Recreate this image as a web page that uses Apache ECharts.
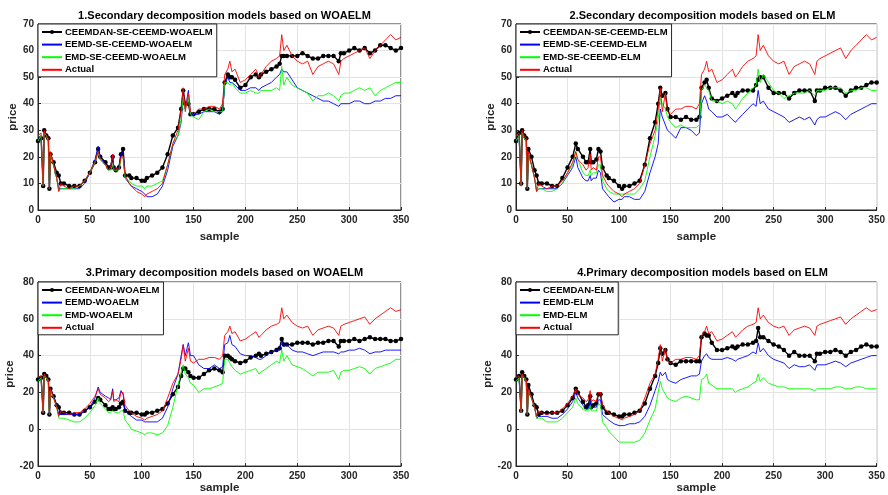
<!DOCTYPE html>
<html>
<head>
<meta charset="utf-8">
<script src="https://cdn.jsdelivr.net/npm/echarts@6/dist/echarts.min.js"></script>
<style>html,body{margin:0;padding:0;background:#fff;}#c{width:888px;height:495px;}</style>
</head>
<body>
<div id="c"></div>
<script>
// sample indices
var samples = [0,3,5,6,8,10,11,12,15,18,
 20,22,25,30,35,40,45,50,55,58,
 60,65,68,70,72,73,75,78,80,82,
 84,88,90,95,100,103,105,110,115,120,
 125,130,135,138,140,142,145,147,150,155,
 160,165,170,175,178,180,183,185,187,190,
 195,200,205,210,213,215,220,225,230,233,
 235,237,240,245,250,255,260,265,270,275,
 280,285,290,292,295,300,305,310,315,320,
 325,330,335,340,345,350];

var actual = [28,29,9,30,28,27,8,22,17,12,
 7,10,9,8,9,9,11,14,18,22,
 19,17,15,16,21,15,16,15,20,20,
 13,10,9,7,6,5,6,7,8,10,
 17,25,30,38,46,37,44,37,36,38,
 38,39,39,38,40,51,53,56,52,53,
 48,49,51,53,50,51,54,56,57,58,
 66,60,62,58,56,55,56,51,54,55,
 56,55,51,56,57,58,59,60,61,57,
 60,62,64,66,64,65];

// Panel 1: Secondary decomposition, WOAELM
var p1Ceemdan = [26,27,9,30,28,27,8,21,18,14,
 13,10,10,9,9,9,11,14,18,23,
 20,18,16,16,20,16,15,16,21,23,
 13,13,12,12,11,11,12,13,14,16,
 21,28,31,38,45,40,40,36,36,37,
 38,38,38,37,38,48,51,50,50,49,
 46,47,50,51,50,51,52,53,54,55,
 58,58,58,58,58,59,58,57,57,58,
 58,58,56,59,59,60,61,60,61,59,
 60,62,62,61,60,61];
var p1Eemd = [27,28,9,29,28,26,8,21,17,12,
 8,8,8,8,8,8,10,14,19,24,
 20,17,15,16,21,16,15,16,21,22,
 12,10,9,8,7,6,5,5,6,9,
 15,24,28,33,42,38,45,36,36,36,
 37,37,37,36,37,47,50,48,48,47,
 45,45,46,46,45,46,47,48,50,51,
 53,52,52,49,46,45,44,43,42,41,
 41,40,39,40,40,40,41,41,40,40,
 41,41,42,42,43,43];
var p1Emd = [26,28,9,29,28,26,8,21,17,12,
 7,8,8,8,8,9,11,14,18,22,
 19,17,15,15,17,15,15,15,19,20,
 12,11,10,9,9,8,9,9,10,11,
 17,25,28,34,43,38,42,36,35,34,
 37,38,37,37,37,48,48,47,48,46,
 44,44,45,44,44,45,45,45,46,45,
 54,47,50,47,46,45,44,41,43,43,
 44,43,41,43,44,44,45,46,45,46,
 43,45,46,47,48,48];

// Panel 2: Secondary decomposition, ELM
var p2Ceemdan = [26,29,10,30,28,27,8,23,20,15,
 13,10,10,10,9,9,12,16,20,25,
 23,20,18,18,23,18,18,19,23,22,
 16,13,12,11,9,8,9,9,10,11,
 17,27,33,40,46,43,44,38,35,35,
 34,35,34,34,35,46,48,49,46,42,
 41,42,43,44,43,44,45,45,45,47,
 49,50,50,46,44,44,44,42,44,45,
 45,45,41,45,45,46,46,46,45,43,
 45,46,46,47,48,48];
var p2Eemd = [26,28,9,29,27,26,8,21,17,12,
 7,8,8,8,8,8,10,13,16,20,
 16,12,11,11,13,11,12,12,15,14,
 8,6,5,3,4,4,5,5,4,4,
 7,14,20,25,38,35,32,30,29,27,
 31,31,30,28,29,40,43,41,38,37,
 35,35,36,34,33,34,36,38,40,39,
 45,40,41,38,37,36,35,33,34,35,
 34,35,32,34,35,35,36,37,36,34,
 36,37,38,39,40,40];
var p2Emd = [26,28,9,29,27,26,8,21,17,12,
 7,8,8,7,7,8,10,14,17,22,
 19,14,13,13,15,13,14,14,17,17,
 11,8,7,6,6,6,6,6,6,8,
 11,20,28,34,42,40,38,35,33,31,
 32,31,31,31,32,45,47,46,45,41,
 41,40,41,40,38,39,42,44,46,47,
 53,48,51,48,45,44,42,43,44,44,
 44,45,43,45,45,45,46,46,46,44,
 45,45,46,46,45,45];

// Panel 3: Primary decomposition, WOAELM
var p3Ceemdan = [27,28,9,30,29,27,8,22,18,13,
 12,9,9,9,8,8,10,12,15,17,
 16,13,11,11,12,11,11,12,14,15,
 10,9,9,9,8,8,9,9,10,11,
 14,19,23,29,33,33,31,29,28,28,
 30,32,33,32,31,40,40,39,38,37,
 36,37,39,40,41,40,41,42,43,44,
 49,46,46,46,47,47,47,46,47,47,
 48,48,45,48,48,48,49,48,49,50,
 49,49,49,48,48,49];
var p3Eemd = [27,28,9,30,28,27,8,22,18,13,
 8,8,8,8,8,8,10,12,17,23,
 20,18,17,16,22,16,16,17,21,19,
 10,8,7,5,5,4,4,4,4,6,
 12,22,30,40,46,40,47,40,40,35,
 33,33,35,33,34,46,47,51,46,45,
 41,40,40,39,38,38,40,42,43,43,
 48,45,46,43,42,42,41,40,41,42,
 42,42,41,42,42,43,43,44,43,41,
 42,42,43,43,43,43];
var p3Emd = [26,28,9,29,28,26,8,21,17,12,
 6,6,6,5,4,4,6,9,13,17,
 14,11,9,9,10,9,9,9,10,10,
 5,2,0,-1,-2,-3,-2,-2,-3,-2,
 2,12,24,31,35,30,28,25,24,20,
 22,22,23,24,25,38,38,36,34,32,
 30,31,32,33,30,31,33,35,37,36,
 43,37,40,35,34,33,31,29,31,31,
 31,32,27,31,32,32,33,34,33,30,
 33,34,35,36,38,38];

// Panel 4: Primary decomposition, ELM
var p4Ceemdan = [27,29,10,31,29,27,8,24,19,13,
 12,8,9,9,9,9,10,13,17,22,
 20,15,12,13,18,12,13,14,19,19,
 12,9,9,8,7,7,8,8,9,10,
 14,22,29,36,44,41,43,38,36,35,
 37,37,37,37,37,50,52,51,51,47,
 43,43,44,45,44,45,46,46,47,48,
 55,50,50,48,46,45,43,40,42,40,
 40,40,37,41,41,42,42,43,42,40,
 42,43,45,46,45,45];
var p4Eemd = [27,28,9,30,28,27,8,22,17,12,
 6,7,7,7,6,6,8,11,15,20,
 17,13,11,11,16,11,12,12,16,16,
 8,6,5,3,2,2,2,3,3,4,
 7,13,21,26,31,29,31,27,26,25,
 27,28,29,29,30,37,40,41,39,38,
 38,38,39,38,37,38,39,40,42,41,
 47,42,44,40,38,37,36,33,35,34,
 34,35,32,35,35,35,36,37,36,34,
 36,37,38,39,40,40];
var p4Emd = [26,28,9,29,28,26,8,21,17,12,
 6,6,6,4,4,4,6,9,12,17,
 14,11,10,10,13,10,10,10,14,13,
 4,1,-1,-4,-7,-7,-7,-7,-7,-6,
 -2,5,11,20,26,22,19,17,16,15,
 17,18,17,16,16,27,28,30,25,24,
 22,22,22,22,20,21,22,23,25,26,
 30,26,28,25,24,23,23,22,22,22,
 22,22,21,22,22,22,22,23,23,22,
 22,23,23,22,22,22];

var titles = ['1.Secondary decomposition models based on WOAELM',
 '2.Secondary decomposition models based on ELM',
 '3.Primary decomposition models based on WOAELM',
 '4.Primary decomposition models based on ELM'];
var names = [
 ['CEEMDAN-SE-CEEMD-WOAELM','EEMD-SE-CEEMD-WOAELM','EMD-SE-CEEMD-WOAELM','Actual'],
 ['CEEMDAN-SE-CEEMD-ELM','EEMD-SE-CEEMD-ELM','EMD-SE-CEEMD-ELM','Actual'],
 ['CEEMDAN-WOAELM','EEMD-WOAELM','EMD-WOAELM','Actual'],
 ['CEEMDAN-ELM','EEMD-ELM','EMD-ELM','Actual']];
var preds = [[p1Ceemdan,p1Eemd,p1Emd],[p2Ceemdan,p2Eemd,p2Emd],[p3Ceemdan,p3Eemd,p3Emd],[p4Ceemdan,p4Eemd,p4Emd]];
var yRanges = [[0,70,10],[0,70,10],[-20,80,20],[-20,80,20]];
var xTicks = [0,350,50];

var font = 'Liberation Sans, Arial, sans-serif';
var axisColor = '#262626';
var gridPos = [
 {left:38, top:24, width:363, height:186},
 {left:516, top:24, width:363, height:186},
 {left:38, top:282, width:363, height:185},
 {left:516, top:282, width:363, height:185}];

function pairs(arr){ return samples.map(function(x,i){ return [x, arr[i]]; }); }

var option = {
 animation:false,
 backgroundColor:'#fff',
 title:[], grid:[], xAxis:[], yAxis:[], legend:[], series:[]
};
var colors = ['#000000','#0000ff','#00ff00','#ff0000'];
for (var p=0;p<4;p++){
 var g = gridPos[p];
 option.grid.push({left:g.left, top:g.top, width:g.width, height:g.height, show:true, borderColor:axisColor, borderWidth:1, backgroundColor:'#fff', containLabel:false});
 option.title.push({text:titles[p], left:g.left+g.width/2, top:(p<2?5:262), textAlign:'center',
   textStyle:{fontFamily:font, fontWeight:'bold', fontSize:11, color:'#000'}});
 option.xAxis.push({type:'value', gridIndex:p, min:xTicks[0], max:xTicks[1], interval:xTicks[2],
   name:'sample', nameLocation:'middle', nameGap:(p<2?21:13),
   nameTextStyle:{fontFamily:font, fontWeight:'bold', fontSize:11.5, color:axisColor},
   axisLine:{show:true, onZero:false, lineStyle:{color:axisColor, width:1}},
   axisTick:{show:true, inside:true, length:3, lineStyle:{color:axisColor}},
   axisLabel:{fontFamily:font, fontWeight:'bold', fontSize:10, color:axisColor, margin:5},
   splitLine:{show:true, lineStyle:{color:'#e3e3e3', width:1}}});
 var yr = yRanges[p];
 option.yAxis.push({type:'value', gridIndex:p, min:yr[0], max:yr[1], interval:yr[2],
   name:'price', nameLocation:'middle', nameGap:14, nameRotate:90,
   nameTextStyle:{fontFamily:font, fontWeight:'bold', fontSize:11.5, color:axisColor},
   axisLine:{show:true, onZero:false, lineStyle:{color:axisColor, width:1}},
   axisTick:{show:true, inside:true, length:3, lineStyle:{color:axisColor}},
   axisLabel:{fontFamily:font, fontWeight:'bold', fontSize:10, color:axisColor, margin:4},
   splitLine:{show:true, lineStyle:{color:'#e3e3e3', width:1}}});
 var legData = names[p].map(function(n, k){
   return k === 0 ? {name:n} : {name:n, itemStyle:{opacity:0}};
 });
 option.legend.push({orient:'vertical', left:g.left, top:g.top, itemGap:2.6, itemWidth:20, itemHeight:5,
   padding:[3,4,2,3], backgroundColor:'#fff', borderColor:axisColor, borderWidth:1, borderRadius:0,
   textStyle:{fontFamily:font, fontWeight:'bold', fontSize:9.5, color:'#000', padding:[0,0,0,-2], lineHeight:9.5},
   data:legData, selectedMode:false});
 var all = [preds[p][0], preds[p][1], preds[p][2], actual];
 for (var s=0;s<4;s++){
   var isBlack = s===0;
   option.series.push({type:'line', name:names[p][s], xAxisIndex:p, yAxisIndex:p,
     data:pairs(all[s]), color:colors[s],
     symbol: isBlack ? 'circle' : 'none', symbolSize: isBlack ? 4.5 : 0, showSymbol:isBlack,
     itemStyle:{color:colors[s]},
     lineStyle:{color:colors[s], width: isBlack?1.4:0.9},
     z: 2+s, silent:true});
 }
}
var chart = echarts.init(document.getElementById('c'), null, {renderer:'canvas'});
chart.setOption(option);
</script>
</body>
</html>
